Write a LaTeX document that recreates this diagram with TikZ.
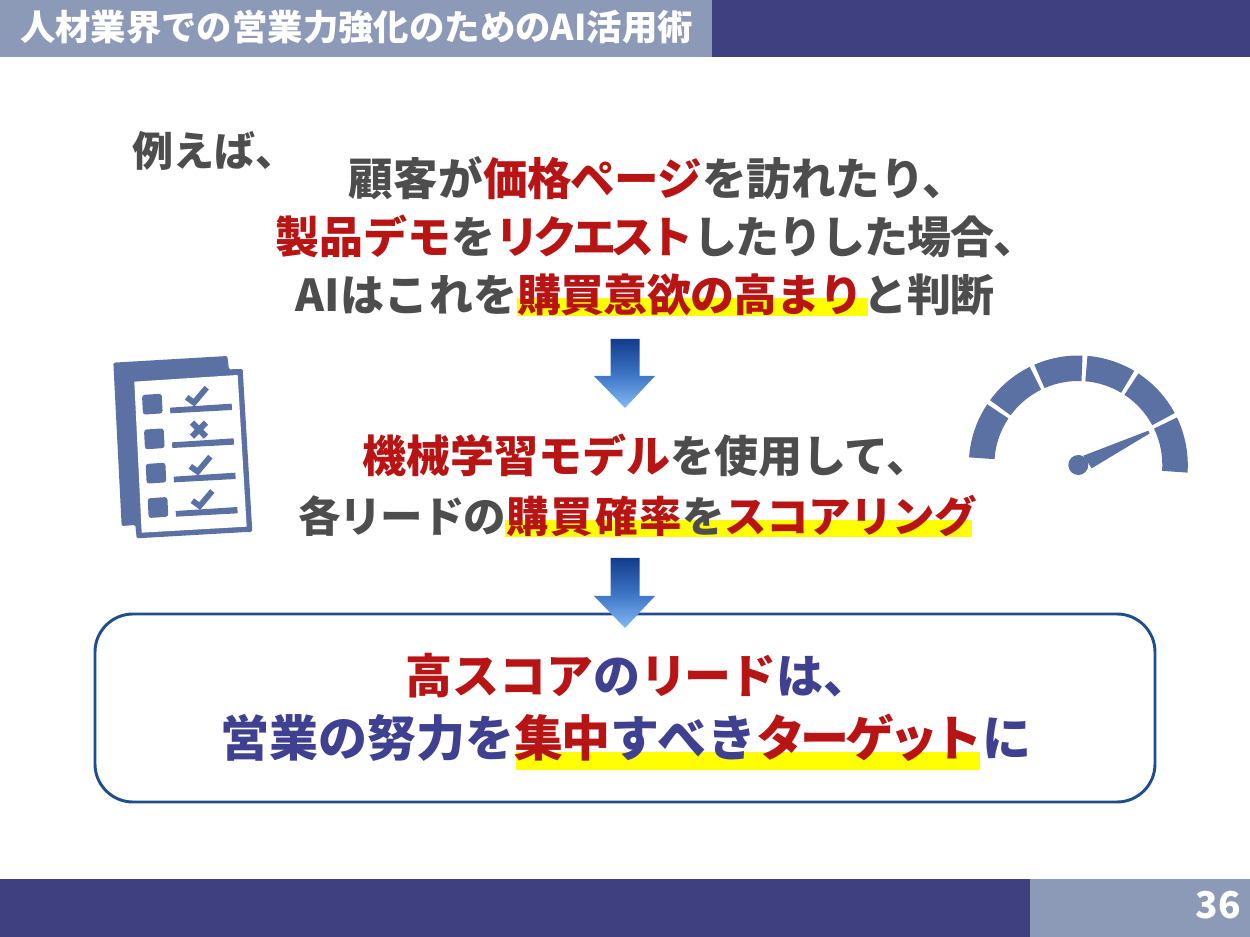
\documentclass[tikz,border=0pt]{standalone}
\usepackage{fontspec}
\setmainfont{Noto Sans CJK JP}
\usetikzlibrary{shadings,calc}
\definecolor{navy}{RGB}{63,64,128}
\definecolor{steel}{RGB}{140,154,184}
\definecolor{txtgray}{RGB}{77,77,77}
\definecolor{txtred}{RGB}{184,20,20}
\definecolor{txtnavy}{RGB}{63,64,144}
\definecolor{icon}{RGB}{91,113,163}
\definecolor{boxline}{RGB}{31,78,140}
\definecolor{arrowtop}{RGB}{18,60,140}
\definecolor{arrowmid}{RGB}{60,115,195}
\definecolor{arrowbot}{RGB}{130,185,245}
\definecolor{marker}{RGB}{255,255,0}
\newcommand\rd[1]{\textcolor{txtred}{#1}}
\newcommand\ls[2]{{\addfontfeatures{LetterSpace=#1}#2}}
\newcommand\fsize[1]{\fontsize{\the\dimexpr #1pt*3/4\relax}{\the\dimexpr #1pt*3/4\relax}\selectfont}
\newcommand\fs[1]{\fsize{#1}\bfseries}
\tikzset{
  x=0.75pt,y=-0.75pt,
  band/.style={fill=#1,draw=none},
  hilite/.style={fill=marker,draw=none},
  line/.style={inner sep=0pt,outer sep=0pt,anchor=base west,text=txtgray,font=\bfseries},
  downarrow/.style={top color=arrowtop,bottom color=arrowbot,middle color=arrowmid,draw=none},
  iconfill/.style={fill=icon,draw=none},
}
\newcommand\gaugeseg[2]{\fill[icon] ($(gc)+(#1:109.5)$) arc[start angle=#1,end angle=#2,radius=109.5] -- ($(gc)+(#2:84)$) arc[start angle=#2,end angle=#1,radius=84] -- cycle;}
\begin{document}
\begin{tikzpicture}
\useasboundingbox (0,0) rectangle (1250,937);
% bands
\fill[band=steel] (0,0) rectangle (712,57);
\fill[band=navy] (712,0) rectangle (1250,57);
\fill[band=navy] (0,879) rectangle (1030,937);
\fill[band=steel] (1030,879) rectangle (1250,937);
\node[line,text=white,font=\fs{35.4}] (title) at (20,41) {人材業界での営業力強化のためのAI活用術};
\node[inner sep=0pt,text=white,font=\fs{37}] (page) at (1218,905) {36};
% box
\draw[boxline,line width=2.2pt,fill=white,rounded corners=28.5pt] (95,614) rectangle (1155,802);
% highlights
\fill[hilite] (517,298) rectangle (868,316);
\fill[hilite] (505,520) rectangle (972,537);
\fill[hilite] (516,752) rectangle (980,770);
% text
\node[line,font=\fs{41}] (lead) at (132,167) {例えば、};
\node[line,font=\fs{44.5}] (l1) at (348,196) {\ls{2}{顧客が}\rd{\ls{-1.5}{価格ページ}}を訪れたり、};
\node[line,font=\fs{44}] (l2) at (275,254) {\rd{製品デモ}を\rd{\ls{-12.5}{リクエスト}}\ls{-2.5}{したりした場合、}};
\node[line,font=\fs{44}] (l3) at (295,312) {\ls{1}{AIはこれを}\rd{\ls{-2}{購買意欲の高まり}}\ls{-1}{と判断}};
\node[line,font=\fs{44}] (l4) at (362,473) {\rd{機械学習モデル}を使用して、};
\node[line,font=\fs{42.5}] (l5) at (298,533) {\ls{-2.5}{各リードの}\rd{\ls{4.7}{購買確率}}を\rd{\ls{-1.5}{スコアリング}}};
\node[line,text=txtnavy,font=\fs{47}] (l6) at (405,693) {\rd{高スコア}の\rd{\ls{-5}{リード}}は、};
\node[line,text=txtnavy,font=\fs{49}] (l7) at (220,756) {営業の努力を\rd{\ls{-4}{集中}}\ls{3}{すべき}\rd{\ls{-9.5}{ターゲット}}に};
% arrows
\path[downarrow] (610.5,339) -- (639.5,339) -- (639.5,376) -- (655,376) -- (625,408) -- (594,376) -- (610.5,376) -- cycle;
\path[downarrow] (610.5,558) -- (639.5,558) -- (639.5,596) -- (655,596) -- (625,628) -- (594,596) -- (610.5,596) -- cycle;
% checklist
\begin{scope}[shift={(90,340)},x=0.25pt,y=-0.25pt]
\fill[iconfill,rounded corners=1pt] (70,68) -- (412,48) -- (417,88) -- (458,87) -- (487,575) -- (140,595) -- (136,555) -- (95,558) -- cycle;
\fill[white] (133,125) -- (443,105) -- (470,560) -- (155,578) -- cycle;
\foreach \dx/\dy in {0/0,6/104,11/207,17/310}{
  \begin{scope}[shift={(\dx,\dy)}]
  \fill[iconfill,rounded corners=2pt] (156,165) -- (215,161) -- (218,220) -- (159,224) -- cycle;
  \fill[iconfill] (240,203) -- (425,191) -- (426,210) -- (241,220) -- cycle;
  \end{scope}
}
\foreach \dx/\dy in {0/0,11/207,17/310}{
  \draw[icon,line width=4.3pt,shift={(\dx,\dy)}] (290,172) -- (312,188) -- (350,143);
}
\draw[icon,line width=4.5pt] (306,248) -- (348,290) (348,248) -- (306,290);
\end{scope}
% gauge
\coordinate (gc) at (1078.3,465);
\gaugeseg{184}{213.7}
\gaugeseg{216.3}{243.7}
\gaugeseg{246.3}{272.2}
\gaugeseg{274.8}{300.7}
\gaugeseg{303.3}{331.7}
\gaugeseg{334.3}{364}
\fill[icon] (gc) circle[radius=10];
\fill[icon] (1083.3,455.7) -- (1148.3,430.7) -- (1149.5,433.5) -- (1091.7,468.3) -- cycle;
\end{tikzpicture}
\end{document}
